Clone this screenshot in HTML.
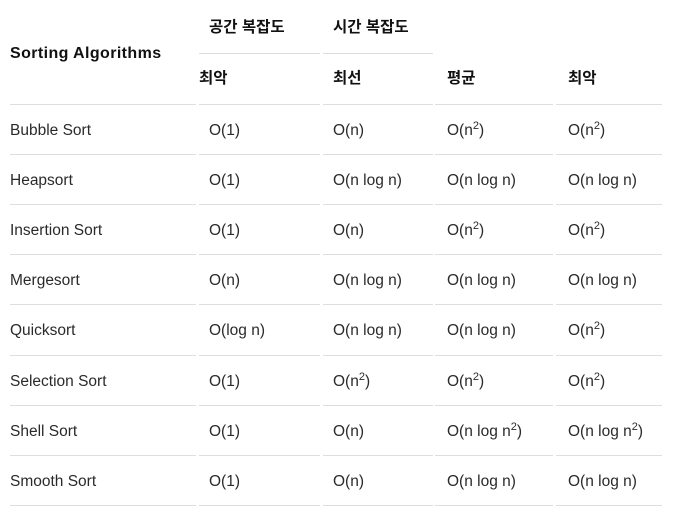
<!DOCTYPE html>
<html><head><meta charset="utf-8"><style>
body{margin:0;width:684px;height:525px;background:#fff;font-family:"Liberation Sans","Noto Sans CJK KR",sans-serif;color:#2a2a2a;position:relative;overflow:hidden}
.t{position:absolute;font-size:15.5px;line-height:20px;white-space:nowrap}
.b{font-weight:bold;color:#111}
.l{position:absolute;height:1px;background:#dedede}
sup{font-size:11px;vertical-align:6px;line-height:0}
</style></head><body>
<div>
<div class="t b" style="left:10px;top:44px;font-size:16px;letter-spacing:0.4px">Sorting Algorithms</div>
<div class="t b" style="left:209px;top:18px">공간 복잡도</div>
<div class="t b" style="left:333px;top:18px">시간 복잡도</div>
<div class="l" style="left:199px;top:53px;width:121px"></div>
<div class="l" style="left:323px;top:53px;width:110px"></div>
<div class="t b" style="left:199px;top:69px">최악</div>
<div class="t b" style="left:333px;top:69px">최선</div>
<div class="t b" style="left:447px;top:69px">평균</div>
<div class="t b" style="left:568px;top:69px">최악</div>
<div id="rows"></div>
</div>
<script>
const names=["Bubble Sort","Heapsort","Insertion Sort","Mergesort","Quicksort","Selection Sort","Shell Sort","Smooth Sort"];
const space=["O(1)","O(1)","O(1)","O(n)","O(log n)","O(1)","O(1)","O(1)"];
const best=["O(n)","O(n log n)","O(n)","O(n log n)","O(n log n)","O(n<sup>2</sup>)","O(n)","O(n)"];
const avg=["O(n<sup>2</sup>)","O(n log n)","O(n<sup>2</sup>)","O(n log n)","O(n log n)","O(n<sup>2</sup>)","O(n log n<sup>2</sup>)","O(n log n)"];
const worst=["O(n<sup>2</sup>)","O(n log n)","O(n<sup>2</sup>)","O(n log n)","O(n<sup>2</sup>)","O(n<sup>2</sup>)","O(n log n<sup>2</sup>)","O(n log n)"];
const root=document.getElementById('rows');
const segs=[[10,186],[199,121],[323,110],[435,118],[556,106]];
const xs=[10,209,333,447,568];
function line(y){segs.forEach(s=>{const d=document.createElement('div');d.className='l';d.style.left=s[0]+'px';d.style.top=y+'px';d.style.width=s[1]+'px';


root.appendChild(d);});}
line(104);
names.forEach((n,i)=>{const y=104+i*50.1;const vals=[n,space[i],best[i],avg[i],worst[i]];
vals.forEach((v,j)=>{const d=document.createElement('div');d.className='t';d.style.left=xs[j]+'px';d.style.top=(y+17)+'px';d.innerHTML=v;


root.appendChild(d);});
line(Math.round(y+50.1));});
</script>
</body></html>
